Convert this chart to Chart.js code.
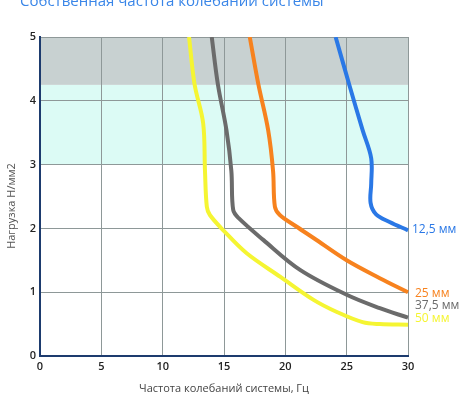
<!DOCTYPE html>
<html>
<head>
<meta charset="utf-8">
<script src="https://cdn.jsdelivr.net/npm/chart.js@4/dist/chart.umd.min.js"></script>
<style>
html,body{margin:0;padding:0;background:#fff;}
#wrap{position:relative;width:470px;height:400px;}
</style>
</head>
<body>
<div id="wrap"><canvas id="c" width="470" height="400"></canvas></div>
<script>
// ---- data ----
const chartTitle = 'Собственная частота колебаний системы';
const xTitle = 'Частота колебаний системы, Гц';
const yTitle = 'Нагрузка Н/мм2';
const seriesNames = ['12,5 мм', '25 мм', '37,5 мм', '50 мм'];

const freq125 = [24.1, 25.2, 26.3, 27.0, 27.0, 26.95, 27.4, 28.5, 30.0];
const load125 = [5.0, 4.26, 3.54, 3.1, 2.7, 2.4, 2.22, 2.1, 1.97];

const freq25 = [17.1, 17.8, 18.6, 19.0, 19.15, 19.55, 20.9, 22.3, 25.0, 27.7, 30.0];
const load25 = [5.0, 4.26, 3.54, 2.9, 2.34, 2.21, 2.03, 1.85, 1.5, 1.22, 1.0];

const freq375 = [14.0, 14.5, 15.2, 15.6, 15.75, 16.2, 18.2, 21.2, 25.0, 27.7, 30.0];
const load375 = [5.0, 4.26, 3.54, 2.9, 2.29, 2.16, 1.82, 1.35, 0.96, 0.75, 0.6];

const freq50 = [12.15, 12.6, 13.3, 13.45, 13.6, 13.85, 14.95, 16.85, 19.6, 22.3, 24.2, 26.3, 27.7, 30.0];
const load50 = [5.0, 4.26, 3.65, 2.9, 2.34, 2.21, 1.97, 1.61, 1.24, 0.88, 0.69, 0.53, 0.5, 0.49];

const xTicks = [0, 5, 10, 15, 20, 25, 30];
const yTicks = [0, 1, 2, 3, 4, 5];
const bandCyan = [3, 4.25];
const bandGray = [4.25, 5];

// ---- styles ----
const colors = ['#2a78e6', '#f7821e', '#6b6b6b', '#f5f532'];
const labelOffsets = [[4, -1], [7, 1], [7, -12], [7, -6]];

function pts(xs, ys) { return xs.map((x, i) => ({x: x, y: ys[i]})); }

const seriesData = [pts(freq125, load125), pts(freq25, load25), pts(freq375, load375), pts(freq50, load50)];

const bandsPlugin = {
  id: 'bands',
  beforeDraw(chart) {
    const {ctx, chartArea: a, scales: {y}} = chart;
    ctx.save();
    ctx.fillStyle = '#dcfbf5';
    let t = y.getPixelForValue(bandCyan[1]), b = y.getPixelForValue(bandCyan[0]);
    ctx.fillRect(a.left, t, a.right - a.left, b - t);
    ctx.fillStyle = '#c8d1d1';
    t = y.getPixelForValue(bandGray[1]); b = y.getPixelForValue(bandGray[0]);
    ctx.fillRect(a.left, t, a.right - a.left, b - t);
    ctx.restore();
  }
};

const labelsPlugin = {
  id: 'endLabels',
  afterDatasetsDraw(chart) {
    const {ctx, scales: {x, y}} = chart;
    ctx.save();
    ctx.font = '12px "Open Sans"';
    ctx.textBaseline = 'middle';
    ctx.textAlign = 'left';
    seriesData.forEach((d, i) => {
      const p = d[d.length - 1];
      ctx.fillStyle = colors[i];
      ctx.fillText(seriesNames[i], x.getPixelForValue(p.x) + labelOffsets[i][0], y.getPixelForValue(p.y) + labelOffsets[i][1]);
    });
    ctx.fillStyle = '#3a86e8';
    ctx.font = '15px "Open Sans"';
    ctx.textBaseline = 'alphabetic';
    ctx.fillText(chartTitle, 20, 6);
    // y axis title
    ctx.translate(12, 206);
    ctx.rotate(-Math.PI / 2);
    ctx.fillStyle = '#555';
    ctx.font = '11px "Open Sans"';
    ctx.textAlign = 'center';
    ctx.textBaseline = 'middle';
    ctx.fillText(yTitle, 0, 0);
    ctx.restore();
  }
};

new Chart(document.getElementById('c'), {
  type: 'scatter',
  data: {
    datasets: seriesData.map((d, i) => ({
      label: seriesNames[i],
      data: d,
      showLine: true,
      borderColor: colors[i],
      backgroundColor: colors[i],
      borderWidth: 4,
      pointRadius: 0,
      tension: 0.35,
      clip: {left: 0, top: 0, right: 4, bottom: 0}
    }))
  },
  options: {
    responsive: false,
    animation: false,
    layout: {padding: {top: 37, right: 62, left: 0, bottom: 0}},
    plugins: {legend: {display: false}, tooltip: {enabled: false}},
    scales: {
      x: {
        type: 'linear', min: 0, max: 30,
        afterBuildTicks(s) { s.ticks = xTicks.map(v => ({value: v})); },
        afterFit(s) { s.height = 44; },
        ticks: {color: '#222', font: {family: 'Open Sans', size: 11, weight: '600'}, padding: 4},
        grid: {color: '#8e9898', lineWidth: 1, drawTicks: false},
        border: {color: '#1d3b6e', width: 2},
        title: {display: true, text: xTitle, color: '#444', font: {family: 'Open Sans', size: 11}, padding: {top: 0, bottom: 5}}
      },
      y: {
        type: 'linear', min: 0, max: 5,
        afterBuildTicks(s) { s.ticks = yTicks.map(v => ({value: v})); },
        afterFit(s) { s.width = 40; },
        ticks: {color: '#222', font: {family: 'Open Sans', size: 11, weight: '600'}, padding: 4},
        grid: {color: '#8e9898', lineWidth: 1, drawTicks: false},
        border: {color: '#1d3b6e', width: 2},
        title: {display: false}
      }
    }
  },
  plugins: [bandsPlugin, labelsPlugin]
});
</script>
</body>
</html>
